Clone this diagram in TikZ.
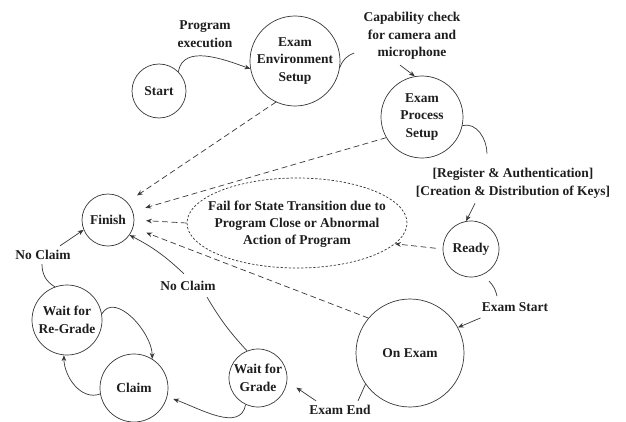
\documentclass[tikz,border=0pt]{standalone}
\usepackage{fontspec}
\setmainfont{Liberation Serif}
\usepackage{xcolor}
\definecolor{LineGray}{RGB}{55,55,55}
\definecolor{TextGray}{RGB}{30,30,30}
\usetikzlibrary{arrows.meta, shapes.geometric, calc}
\tikzset{
  % State circle
  stcirc/.style={
    circle, draw=LineGray, line width=0.6pt,
    inner sep=0pt, align=center, text=TextGray,
    font=\fontsize{11.5}{15}\selectfont\bfseries
  },
  % Transition label
  tlabel/.style={
    align=center, inner sep=1pt, text=TextGray,
    font=\fontsize{11.5}{15}\selectfont\bfseries
  },
  % Arrows
  arr/.style={-{Stealth[length=5pt,width=4pt]}, line width=0.6pt, LineGray},
  plainln/.style={line width=0.6pt, LineGray},
  darr/.style={arr, dash pattern=on 5pt off 3pt},
}

\begin{document}
\begin{tikzpicture}[x=0.03cm, y=-0.03cm]
  \useasboundingbox (0,0) rectangle (626,421);

  % States
  \node[stcirc, minimum size=1.62cm] (start)       at (159,91)  {Start};
  \node[stcirc, minimum size=2.7cm]  (envsetup)    at (295,61)  {Exam\\Environment\\Setup};
  \node[stcirc, minimum size=2.46cm] (procsetup)   at (422,117) {Exam\\Process\\Setup};
  \node[stcirc, minimum size=1.56cm] (finish)      at (108,220) {Finish};
  \node[stcirc, minimum size=1.68cm] (ready)       at (471,249) {Ready};
  \node[stcirc, minimum size=3.24cm] (onexam)      at (410,353) {On Exam};
  \node[stcirc, minimum size=2.1cm]  (waitregrade) at (67,320)  {Wait for\\Re-Grade};
  \node[stcirc, minimum size=2.04cm] (claim)       at (134,388) {Claim};
  \node[stcirc, minimum size=1.74cm] (waitgrade)   at (258,378) {Wait for\\Grade};

  % Failure ellipse
  \node[ellipse, draw=LineGray, line width=0.6pt, dash pattern=on 2pt off 1.5pt,
        minimum width=6.6cm, minimum height=2.7cm] (fail) at (297,223) {};
  \node[tlabel, font=\fontsize{11.5}{14.5}\selectfont\bfseries] (failtxt) at (297,224)
    {Fail for State Transition due to\\Program Close or Abnormal\\Action of Program};

  % Labels
  \node[tlabel] (lblexec)    at (205,34)  {Program\\execution};
  \node[tlabel] (lblcap)     at (412,36)  {Capability check\\for camera and\\microphone};
  \node[tlabel] (lblreg)     at (513,183) {[Register \& Authentication]\\{}[Creation \& Distribution of Keys]};
  \node[tlabel] (lblstart)   at (515,307) {Exam Start};
  \node[tlabel] (lblend)     at (340,410) {Exam End};
  \node[tlabel] (lblnoclaimA) at (43,255) {No Claim};
  \node[tlabel] (lblnoclaimB) at (188,286) {No Claim};

  % Normal transitions
  \draw[arr] (start.45) to[out=80,in=160] (envsetup.190);
  \draw[plainln] (envsetup.-8) to[out=70,in=200] ($(lblcap.south west)+(-8,-8)$);
  \draw[arr] ($(lblcap.south)+(-12,4)$) -- (procsetup.100);
  \draw[plainln] (procsetup.-12) to[out=15,in=90] ($(lblreg.north)+(-26,-13)$);
  \draw[arr] ($(lblreg.south)+(-38,4)$) -- (ready.100);
  \draw[plainln] ($(ready.-58)+(3,8)$) to[bend left=15] ($(lblstart.north)+(-18,-5)$);
  \draw[arr] ($(lblstart.south west)+(0,5)$) -- (onexam.28);
  \draw[plainln] (onexam.215) -- ($(lblend.north)+(18,-3)$);
  \draw[arr] ($(lblend.north west)+(8,-3)$) -- ($(waitgrade.-15)+(10,2)$);
  \draw[arr] (waitgrade.245) to[out=-100,in=-20] ($(claim.-15)+(6,2)$);
  \draw[plainln] (waitgrade.112) to[bend left=6] ($(lblnoclaimB.south)+(19,5)$);
  \draw[arr] ($(lblnoclaimB.north)+(-4,-6)$) to[bend right=8] (finish.-35);
  \draw[plainln] (waitregrade.110) to[out=150,in=-90] ($(lblnoclaimA.south)+(-1,3)$);
  \draw[arr] ($(lblnoclaimA.north)+(17,-3)$) -- (finish.202);
  \draw[arr] (waitregrade.10) to[out=60,in=90] (claim.58);
  \draw[arr] (claim.190) to[out=200,in=-90] (waitregrade.-95);

  % Failure transitions
  \draw[darr, shorten >=10pt] (envsetup.245) -- (finish.43);
  \draw[darr, shorten >=11pt] (procsetup.210) -- (finish.19);
  \draw[darr, shorten >=10pt] (fail.west) -- (finish.east);
  \draw[darr, shorten >=12pt] (onexam.140) -- (finish.-17);
  \draw[darr, shorten <=6pt] (ready.west) -- (fail.-12);
\end{tikzpicture}
\end{document}
